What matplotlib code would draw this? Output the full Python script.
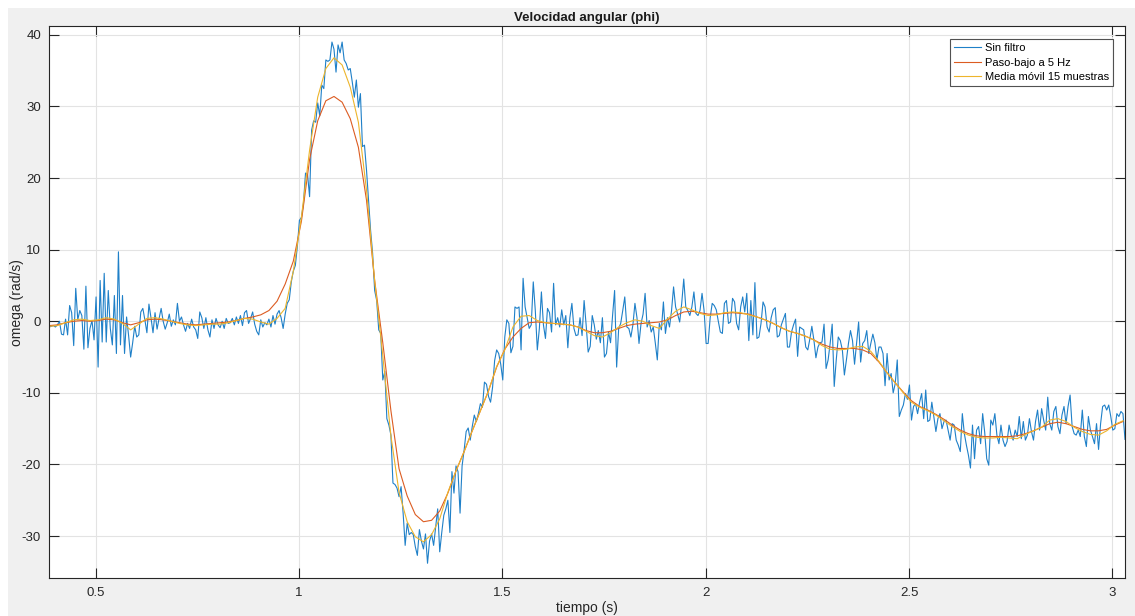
import numpy as np
import matplotlib
matplotlib.use("Agg")
import matplotlib.pyplot as plt
from matplotlib.patches import Rectangle

plt.rcParams['font.family'] = ['Liberation Sans', 'DejaVu Sans']
plt.rcParams['axes.unicode_minus'] = False

# Sampling of the raw gyro signal (200 Hz) and of the smoothed curves
t0 = 0.386
dt_raw = 0.005
dt_smooth = 0.02

# Raw angular velocity (rad/s), one row per 0.1 s
omega_raw = [
    -0.8, -0.7, -0.6, -0.8, -0.5, 0.0, -1.8, -1.9, 0.3, -1.9, 2.2, 1.2, -3.4, 4.6, 0.2, 1.5, 0.8, -3.9, 4.9, -3.7,
    -1.0, 0.1, -2.6, 3.4, -6.4, 5.7, -2.9, 6.7, -2.9, 4.3, -1.0, -3.3, 3.6, -4.5, 9.7, -3.3, 3.6, -4.5, 0.6, -2.0,
    -5.0, -3.0, -0.7, -2.2, -1.9, 1.3, 1.8, 0.2, -1.6, 2.4, 0.5, -1.6, 1.2, -1.1, 0.4, 1.8, 0.0, -1.1, -0.2, 1.0,
    -0.7, 0.2, -0.5, 2.5, 0.0, 0.6, -0.5, -1.4, -0.3, -1.0, 0.3, -0.8, -1.2, -2.4, 1.3, 0.5, -1.0, 0.5, -1.2, -2.2,
    0.2, -1.0, 0.4, -0.5, -0.9, 0.0, -1.0, 0.4, -0.3, -0.2, 0.4, -0.5, 0.6, -0.3, 0.8, -0.6, 1.2, 1.5, -0.3, 0.4,
    1.3, -0.4, -1.4, -1.9, 0.2, -0.8, -0.2, -0.5, 0.3, -0.8, 0.8, -0.4, 1.0, 1.5, 0.5, -1.0, 1.0, 2.5, 3.0, 5.5,
    7.0, 7.8, 10.5, 14.1, 14.5, 16.5, 20.7, 20.5, 17.4, 26.7, 28.0, 27.8, 30.5, 28.7, 33.0, 32.5, 36.5, 36.3, 36.5, 39.0,
    38.0, 34.8, 38.6, 37.5, 39.0, 36.5, 36.0, 35.1, 35.3, 33.4, 31.3, 33.7, 29.9, 31.8, 24.4, 24.6, 21.1, 16.9, 12.7, 9.5,
    4.3, 2.9, -1.2, -1.7, -8.2, -7.0, -13.6, -14.5, -15.9, -22.6, -22.8, -23.3, -24.5, -23.1, -26.8, -31.3, -28.2, -29.8, -29.5, -29.8,
    -31.5, -32.7, -29.1, -30.7, -31.8, -29.7, -33.8, -30.7, -29.7, -31.3, -28.7, -26.2, -32.2, -29.5, -27.1, -26.2, -25.0, -29.5, -21.0, -24.0,
    -20.2, -21.0, -26.8, -20.2, -18.0, -15.4, -14.9, -16.6, -14.7, -13.1, -14.0, -12.9, -11.5, -12.0, -8.5, -8.8, -10.5, -11.3, -9.2, -5.5,
    -4.0, -4.5, -6.0, -8.2, -2.2, 0.2, -0.3, -4.4, -3.5, 2.0, 1.8, 2.0, -4.0, 6.0, 2.0, 0.5, -1.0, -0.5, 5.5, 1.5,
    -4.0, -1.0, 4.1, -0.5, -2.4, 1.8, 1.2, -1.5, 5.3, -0.5, 0.5, -0.8, 1.6, -0.5, 0.8, -3.7, 0.5, 2.5, -1.0, -2.0,
    -1.9, 0.5, -2.0, 2.9, -0.5, -4.3, -3.5, 0.8, -0.5, -2.5, -1.3, -3.0, 0.5, -5.0, -4.5, -1.5, -3.0, 0.8, 4.3, -6.4,
    -1.0, -0.3, 1.5, 3.4, -0.8, -1.0, -2.2, -0.5, 2.5, 0.5, -3.1, -0.3, 1.0, 3.9, -0.8, 0.1, -1.5, -0.8, -3.0, -5.4,
    -0.3, -1.2, 2.7, -1.7, 0.5, -0.8, 1.5, 4.8, 2.0, 1.0, -0.1, 2.5, 5.9, 2.0, 1.5, 0.8, 2.0, 4.1, 1.1, 0.8,
    1.5, 3.9, 1.5, -3.1, -3.1, 0.5, 2.5, 2.2, 1.6, 0.0, -1.5, -1.7, 2.5, 2.9, -0.3, -0.1, 3.2, 2.7, -0.3, -1.2,
    2.0, 3.4, 1.3, 3.9, -2.7, 2.9, -1.9, 5.4, -2.4, -2.2, -0.3, 2.7, 2.0, -0.8, -1.5, 0.5, 1.6, 1.9, -2.2, -2.0,
    -0.5, 0.3, 1.1, -3.6, -3.6, -1.5, -0.5, 0.3, -4.9, -0.8, -1.0, -1.2, -3.6, -4.0, -2.5, -0.7, -2.6, -5.1, -3.6, -3.0,
    -2.9, -0.4, -6.6, -5.4, -3.1, -0.4, -9.1, -5.4, -2.2, -2.7, -4.0, -7.5, -5.4, -3.1, -1.3, -2.7, -6.0, -3.0, -0.1, -5.7,
    -3.1, -2.7, -1.3, -4.5, -3.1, -1.8, -3.0, -5.4, -3.6, -3.6, -4.5, -9.0, -4.5, -8.2, -7.3, -10.0, -8.7, -5.4, -13.3, -12.4,
    -11.7, -10.1, -10.9, -8.9, -13.8, -11.9, -11.5, -12.9, -11.3, -10.1, -13.6, -9.6, -14.0, -13.8, -11.3, -13.3, -15.4, -13.6, -12.9, -15.0,
    -14.0, -13.8, -15.2, -16.6, -14.3, -14.5, -16.6, -17.3, -18.2, -12.9, -15.7, -17.3, -18.7, -20.5, -14.5, -19.2, -15.2, -14.7, -17.1, -12.9,
    -15.5, -19.2, -20.1, -13.8, -14.5, -12.9, -15.9, -17.1, -14.5, -16.6, -17.5, -16.8, -14.5, -15.9, -16.6, -15.2, -16.1, -13.3, -16.4, -14.0,
    -16.6, -15.9, -13.6, -15.4, -16.6, -14.0, -12.4, -15.2, -12.2, -13.8, -15.2, -10.6, -14.3, -15.2, -12.6, -11.9, -14.7, -15.7, -13.1, -11.9,
    -14.3, -11.9, -10.3, -14.7, -15.7, -15.9, -15.2, -16.1, -12.4, -16.1, -17.5, -13.3, -15.2, -16.1, -17.1, -14.3, -17.9, -14.3, -11.9, -11.7,
    -12.4, -11.7, -13.3, -15.2, -15.0, -12.9, -13.3, -12.6, -12.9, -16.5,
]

# Low-pass (5 Hz) filtered signal, every 0.02 s
omega_lp = [
    -0.6, -0.5, -0.2, 0.0, 0.1, 0.0, 0.1, 0.3, 0.2, -0.2,
    -0.5, -0.2, 0.2, 0.3, 0.2, 0.0, -0.2, -0.4, -0.5, -0.4,
    -0.3, -0.2, -0.1, 0.1, 0.4, 0.6, 0.9, 1.5, 2.8, 5.2,
    8.4, 14.0, 22.6, 28.0, 30.8, 31.4, 30.6, 28.3, 24.3, 16.9,
    5.7, -3.0, -12.5, -20.6, -24.4, -27.0, -28.0, -27.8, -26.5, -24.0,
    -20.9, -18.2, -15.3, -12.5, -9.7, -6.4, -3.9, -2.2, -1.0, -0.2,
    -0.1, -0.2, -0.3, -0.4, -0.5, -0.8, -1.3, -1.6, -1.6, -1.4,
    -1.0, -0.6, -0.4, -0.3, -0.2, -0.1, 0.2, 0.8, 1.3, 1.4,
    1.2, 1.0, 1.0, 1.1, 1.2, 1.1, 1.0, 0.6, 0.2, -0.3,
    -0.9, -1.4, -1.7, -2.1, -2.6, -3.2, -3.6, -3.8, -3.8, -3.8,
    -4.0, -4.5, -5.7, -7.2, -8.6, -9.9, -11.1, -11.9, -12.4, -13.0,
    -13.7, -14.5, -15.2, -15.7, -16.0, -16.1, -16.1, -16.1, -16.1, -16.0,
    -15.7, -15.3, -14.8, -14.3, -14.1, -14.3, -14.7, -15.1, -15.3, -15.3,
    -15.1, -14.5, -14.0,
]

# 15-sample moving average, every 0.02 s
omega_ma = [
    -0.7, -0.6, -0.2, 0.2, 0.3, 0.1, 0.2, 0.5, 0.3, -0.3,
    -1.2, -0.4, 0.4, 0.5, 0.3, 0.0, -0.3, -0.5, -0.6, -0.5,
    -0.4, -0.4, -0.2, 0.1, 0.4, 0.3, -0.1, -0.4, 0.4, 1.8,
    7.0, 14.6, 23.9, 31.3, 35.3, 36.8, 35.8, 32.7, 27.8, 18.3,
    5.7, -4.8, -16.0, -23.9, -28.0, -30.1, -30.8, -29.8, -27.6, -23.9,
    -20.9, -18.2, -15.3, -12.5, -9.7, -6.3, -4.0, -0.8, 0.7, 0.8,
    0.1, -0.2, -0.3, -0.4, -0.5, -0.8, -1.4, -2.0, -2.2, -1.6,
    -0.8, -0.2, 0.2, 0.0, -0.6, -1.0, 0.3, 1.4, 2.0, 1.6,
    1.1, 0.8, 0.9, 1.2, 1.3, 1.2, 0.9, 0.6, 0.2, -0.3,
    -0.9, -1.4, -1.7, -2.1, -2.6, -3.4, -3.9, -4.0, -3.9, -3.6,
    -3.5, -4.2, -5.6, -7.2, -8.6, -10.0, -11.3, -12.0, -12.5, -13.1,
    -13.9, -14.7, -15.4, -15.9, -16.2, -16.3, -16.3, -16.2, -16.3, -16.4,
    -15.8, -15.3, -14.8, -13.8, -13.6, -14.0, -14.8, -15.4, -15.8, -15.9,
    -15.3, -14.4, -13.9,
]

legend_labels = ["Sin filtro", "Paso-bajo a 5 Hz", "Media móvil 15 muestras"]
xticks = [0.5, 1, 1.5, 2, 2.5, 3]
xticklabels = ["0.5", "1", "1.5", "2", "2.5", "3"]
yticks = [-30, -20, -10, 0, 10, 20, 30, 40]

t_raw = t0 + dt_raw * np.arange(len(omega_raw))
t_smooth = t0 + dt_smooth * np.arange(len(omega_lp))

W, H = 1135, 616
fig = plt.figure(figsize=(W / 100, H / 100), dpi=100, facecolor="white")
fig.patches.append(Rectangle((8 / W, 0), 1 - 8 / W, 1 - 8 / H, transform=fig.transFigure,
                             facecolor="#f0f0f0", edgecolor="none", zorder=-10))

ax_l, ax_r, ax_t, ax_b = 49.3, 1125.0, 26.3, 578.3
ax = fig.add_axes([ax_l / W, 1 - ax_b / H, (ax_r - ax_l) / W, (ax_b - ax_t) / H])
ax.set_facecolor("white")

ax.plot(t_raw, omega_raw, color="#1f80c8", lw=0.8, label=legend_labels[0])
ax.plot(t_smooth, omega_lp, color="#dc5c22", lw=0.8, label=legend_labels[1])
ax.plot(t_smooth, omega_ma, color="#edb52c", lw=0.8, label=legend_labels[2])

ax.set_xlim(t_raw[0], t_raw[-1])
ax.set_ylim(-35.9, 41.2)
ax.set_xticks(xticks)
ax.set_xticklabels(xticklabels)
ax.set_yticks(yticks)

ax.grid(True, color="#e3e3e3", lw=0.8)
ax.set_axisbelow(True)
for s in ax.spines.values():
    s.set_color("#262626")
    s.set_linewidth(0.8)
ax.tick_params(direction="in", length=7, width=0.8, color="#262626", labelcolor="#262626",
               labelsize=9.5, top=True, right=True, pad=6)

ax.set_title("Velocidad angular (phi)", fontsize=9.5, fontweight="bold", color="#1a1a1a", pad=4)
ax.set_xlabel("tiempo (s)", fontsize=10, color="#262626")
ax.set_ylabel("omega (rad/s)", fontsize=10, color="#262626")
ax.yaxis.set_label_coords((24 - ax_l) / (ax_r - ax_l), 0.5)
ax.xaxis.set_label_coords(0.5, -(601 - ax_b) / (ax_b - ax_t))

leg = ax.legend(loc="upper right", bbox_to_anchor=(0.9891, 0.9775), borderaxespad=0,
                fontsize=8, frameon=True, fancybox=False, handlelength=2.45,
                handletextpad=0.3, labelspacing=0.4, borderpad=0.4)
leg.get_frame().set_edgecolor("#262626")
leg.get_frame().set_linewidth(0.8)

fig.savefig("out.png", dpi=100, facecolor=fig.get_facecolor())
